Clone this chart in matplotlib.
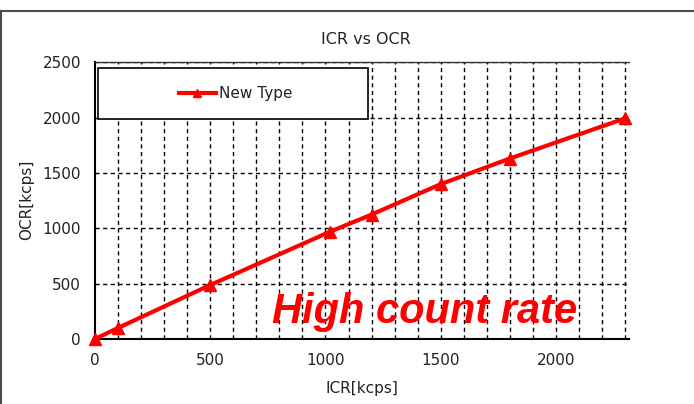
import matplotlib
matplotlib.use("Agg")
import matplotlib.pyplot as plt
from matplotlib.patches import Rectangle
from matplotlib.lines import Line2D

# datos
icr = [0, 100, 500, 1020, 1200, 1500, 1800, 2300]
ocr = [0, 100, 488, 970, 1125, 1400, 1632, 1995]
serie = "New Type"
x_ticks = [0, 500, 1000, 1500, 2000]
y_ticks = [0, 500, 1000, 1500, 2000, 2500]

plt.rcParams['font.family'] = 'DejaVu Sans'
fig = plt.figure(figsize=(6.94, 4.04), dpi=100)
fig.patch.set_facecolor('white')

W, H = 694, 404
ax = fig.add_axes([95 / W, (H - 339) / H, (629 - 95) / W, (339 - 62.5) / H])

ax.plot(icr, ocr, color='red', lw=3, marker='^', ms=9, label=serie,
        clip_on=False, zorder=5)

ax.set_xlim(0, 2317)
ax.set_ylim(0, 2500)
ax.set_xticks(x_ticks)
ax.set_yticks(y_ticks)
ax.tick_params(length=0, labelsize=11, pad=10, labelcolor='#222222')

# rejilla punteada
for gx in range(100, 2301, 100):
    ax.axvline(gx, color='black', lw=1.0, ls=(0, (3, 2.5)), zorder=1)
for gy in y_ticks[1:]:
    ax.axhline(gy, color='black', lw=1.0, ls=(0, (3, 2.5)), zorder=1)

ax.spines['right'].set_visible(False)
ax.spines['top'].set_color('#333333')
ax.spines['top'].set_linewidth(1)
for s in ['left', 'bottom']:
    ax.spines[s].set_linewidth(1.5)
    ax.spines[s].set_color('black')

# caja de leyenda
x0, x1 = (98 - 95) / 534, (368 - 95) / 534
y0, y1 = 1 - (119 - 62.5) / 276.5, 1 - (68 - 62.5) / 276.5
ax.add_patch(Rectangle((x0, y0), x1 - x0, y1 - y0, transform=ax.transAxes,
                       facecolor='white', edgecolor='black', lw=1.2, zorder=6))
leg = ax.legend(loc='center', bbox_to_anchor=((x0 + x1) / 2 + 0.005, (y0 + y1) / 2),
                frameon=False, fontsize=11, handlelength=2.4, markerscale=0.6,
                handletextpad=0.2, labelcolor='#222222')
leg.set_zorder(7)

ax.text((271.7 - 95) / 534, (339 - 323) / 276.5, "High count rate",
        transform=ax.transAxes, color='red', fontsize=30, fontweight='bold',
        fontstyle='italic', family='Liberation Sans', va='baseline', ha='left',
        zorder=8)

fig.text(366 / W, 1 - 40 / H, "ICR vs OCR", ha='center', va='center',
         fontsize=11.5, color='#222222')
fig.text(362 / W, 1 - 388 / H, "ICR[kcps]", ha='center', va='center',
         fontsize=11, color='#222222')
fig.text(27 / W, 1 - 200 / H, "OCR[kcps]", ha='center', va='center',
         rotation=90, fontsize=11, color='#222222')

# marco exterior
fig.add_artist(Line2D([0, 1], [1 - 10.5 / H] * 2, color='#4d4d4d', lw=1.5))
fig.add_artist(Line2D([1 / W] * 2, [0, 1 - 10.5 / H], color='#4d4d4d', lw=1.5))

fig.savefig("out.png", dpi=100)
